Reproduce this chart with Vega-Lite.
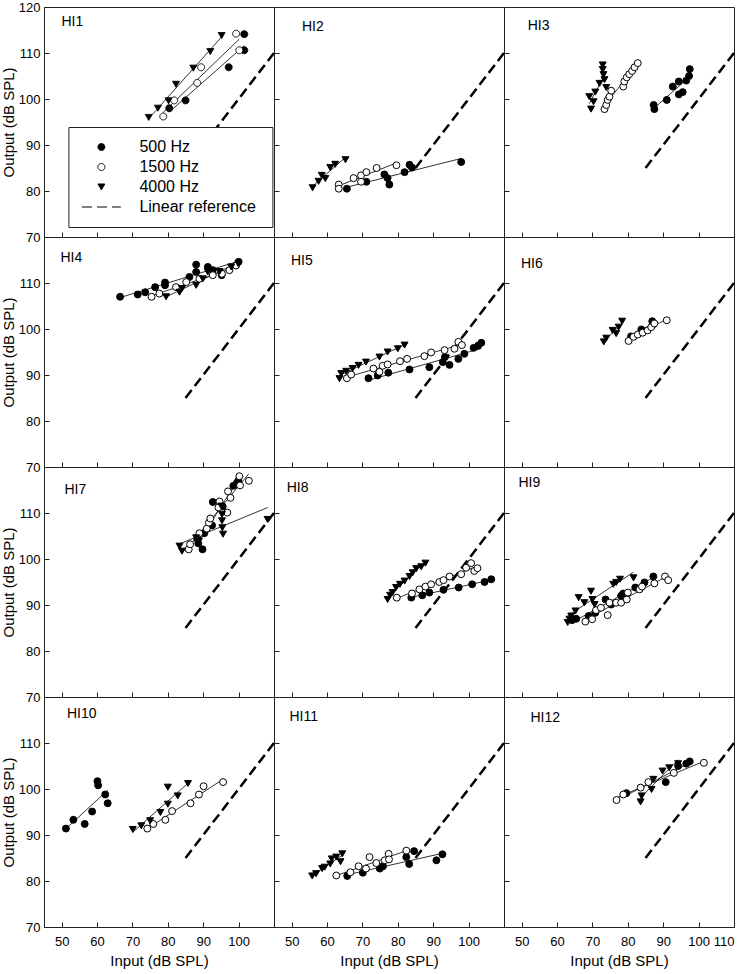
{
"$schema":"https://vega.github.io/schema/vega-lite/v6.json",
"padding":{"left":0,"top":0,"right":5,"bottom":5},
"datasets":{
"ref":[{"input":85,"output":85},{"input":110,"output":110}],
"pts":[
{"panel":"HI1","freq":"500 Hz","input":80.4,"output":98.0},{"panel":"HI1","freq":"500 Hz","input":85.0,"output":99.7},{"panel":"HI1","freq":"500 Hz","input":97.2,"output":106.9},{"panel":"HI1","freq":"500 Hz","input":101.6,"output":114.1},{"panel":"HI1","freq":"500 Hz","input":101.6,"output":110.6},
{"panel":"HI1","freq":"1500 Hz","input":78.7,"output":96.2},{"panel":"HI1","freq":"1500 Hz","input":81.8,"output":99.7},{"panel":"HI1","freq":"1500 Hz","input":88.3,"output":103.5},{"panel":"HI1","freq":"1500 Hz","input":89.4,"output":106.9},{"panel":"HI1","freq":"1500 Hz","input":99.3,"output":114.2},{"panel":"HI1","freq":"1500 Hz","input":100.2,"output":110.6},
{"panel":"HI1","freq":"4000 Hz","input":74.6,"output":96.0},{"panel":"HI1","freq":"4000 Hz","input":77.2,"output":98.0},{"panel":"HI1","freq":"4000 Hz","input":80.2,"output":99.6},{"panel":"HI1","freq":"4000 Hz","input":82.3,"output":103.2},{"panel":"HI1","freq":"4000 Hz","input":87.2,"output":106.7},{"panel":"HI1","freq":"4000 Hz","input":92.0,"output":110.3},{"panel":"HI1","freq":"4000 Hz","input":95.2,"output":113.8},
{"panel":"HI2","freq":"500 Hz","input":65.6,"output":80.5},{"panel":"HI2","freq":"500 Hz","input":71.1,"output":82.0},{"panel":"HI2","freq":"500 Hz","input":76.2,"output":83.6},{"panel":"HI2","freq":"500 Hz","input":77.1,"output":82.8},{"panel":"HI2","freq":"500 Hz","input":77.6,"output":81.4},{"panel":"HI2","freq":"500 Hz","input":81.9,"output":84.1},{"panel":"HI2","freq":"500 Hz","input":83.3,"output":85.7},{"panel":"HI2","freq":"500 Hz","input":84.0,"output":85.1},{"panel":"HI2","freq":"500 Hz","input":97.9,"output":86.3},
{"panel":"HI2","freq":"1500 Hz","input":63.3,"output":81.4},{"panel":"HI2","freq":"1500 Hz","input":63.3,"output":80.5},{"panel":"HI2","freq":"1500 Hz","input":67.5,"output":82.8},{"panel":"HI2","freq":"1500 Hz","input":69.6,"output":83.4},{"panel":"HI2","freq":"1500 Hz","input":69.6,"output":82.0},{"panel":"HI2","freq":"1500 Hz","input":71.1,"output":84.1},{"panel":"HI2","freq":"1500 Hz","input":74.0,"output":85.0},{"panel":"HI2","freq":"1500 Hz","input":79.6,"output":85.6},
{"panel":"HI2","freq":"4000 Hz","input":55.9,"output":80.7},{"panel":"HI2","freq":"4000 Hz","input":57.6,"output":82.1},{"panel":"HI2","freq":"4000 Hz","input":58.5,"output":83.4},{"panel":"HI2","freq":"4000 Hz","input":59.5,"output":82.7},{"panel":"HI2","freq":"4000 Hz","input":60.9,"output":85.1},{"panel":"HI2","freq":"4000 Hz","input":62.3,"output":85.8},{"panel":"HI2","freq":"4000 Hz","input":65.2,"output":86.8},
{"panel":"HI3","freq":"500 Hz","input":87.3,"output":98.7},{"panel":"HI3","freq":"500 Hz","input":87.5,"output":97.8},{"panel":"HI3","freq":"500 Hz","input":91.0,"output":99.8},{"panel":"HI3","freq":"500 Hz","input":92.7,"output":102.7},{"panel":"HI3","freq":"500 Hz","input":94.4,"output":103.8},{"panel":"HI3","freq":"500 Hz","input":94.4,"output":101.0},{"panel":"HI3","freq":"500 Hz","input":95.5,"output":101.5},{"panel":"HI3","freq":"500 Hz","input":96.5,"output":104.0},{"panel":"HI3","freq":"500 Hz","input":97.5,"output":106.5},{"panel":"HI3","freq":"500 Hz","input":97.3,"output":105.0},
{"panel":"HI3","freq":"1500 Hz","input":73.4,"output":97.8},{"panel":"HI3","freq":"1500 Hz","input":73.9,"output":98.7},{"panel":"HI3","freq":"1500 Hz","input":74.3,"output":99.8},{"panel":"HI3","freq":"1500 Hz","input":74.8,"output":100.5},{"panel":"HI3","freq":"1500 Hz","input":75.3,"output":101.8},{"panel":"HI3","freq":"1500 Hz","input":78.7,"output":102.7},{"panel":"HI3","freq":"1500 Hz","input":79.0,"output":103.8},{"panel":"HI3","freq":"1500 Hz","input":79.7,"output":104.7},{"panel":"HI3","freq":"1500 Hz","input":80.4,"output":105.4},{"panel":"HI3","freq":"1500 Hz","input":81.2,"output":106.1},{"panel":"HI3","freq":"1500 Hz","input":81.9,"output":106.9},{"panel":"HI3","freq":"1500 Hz","input":82.8,"output":107.8},
{"panel":"HI3","freq":"4000 Hz","input":72.9,"output":107.4},{"panel":"HI3","freq":"4000 Hz","input":72.9,"output":106.4},{"panel":"HI3","freq":"4000 Hz","input":73.1,"output":105.3},{"panel":"HI3","freq":"4000 Hz","input":73.4,"output":104.2},{"panel":"HI3","freq":"4000 Hz","input":72.0,"output":103.4},{"panel":"HI3","freq":"4000 Hz","input":73.9,"output":102.5},{"panel":"HI3","freq":"4000 Hz","input":70.8,"output":101.5},{"panel":"HI3","freq":"4000 Hz","input":69.1,"output":100.5},{"panel":"HI3","freq":"4000 Hz","input":70.3,"output":99.4},{"panel":"HI3","freq":"4000 Hz","input":69.6,"output":97.8},
{"panel":"HI4","freq":"500 Hz","input":66.5,"output":107.0},{"panel":"HI4","freq":"500 Hz","input":71.5,"output":107.5},{"panel":"HI4","freq":"500 Hz","input":73.6,"output":108.0},{"panel":"HI4","freq":"500 Hz","input":76.4,"output":109.1},{"panel":"HI4","freq":"500 Hz","input":79.2,"output":110.1},{"panel":"HI4","freq":"500 Hz","input":79.2,"output":109.5},{"panel":"HI4","freq":"500 Hz","input":86.1,"output":111.3},{"panel":"HI4","freq":"500 Hz","input":88.0,"output":114.0},{"panel":"HI4","freq":"500 Hz","input":88.0,"output":112.4},{"panel":"HI4","freq":"500 Hz","input":91.3,"output":113.5},{"panel":"HI4","freq":"500 Hz","input":92.7,"output":112.8},{"panel":"HI4","freq":"500 Hz","input":95.2,"output":111.7},{"panel":"HI4","freq":"500 Hz","input":100.0,"output":114.6},
{"panel":"HI4","freq":"1500 Hz","input":75.4,"output":107.0},{"panel":"HI4","freq":"1500 Hz","input":77.6,"output":107.7},{"panel":"HI4","freq":"1500 Hz","input":82.3,"output":109.1},{"panel":"HI4","freq":"1500 Hz","input":85.2,"output":110.2},{"panel":"HI4","freq":"1500 Hz","input":88.9,"output":110.9},{"panel":"HI4","freq":"1500 Hz","input":92.7,"output":111.7},{"panel":"HI4","freq":"1500 Hz","input":95.3,"output":112.0},{"panel":"HI4","freq":"1500 Hz","input":97.4,"output":112.8},{"panel":"HI4","freq":"1500 Hz","input":99.3,"output":113.8},
{"panel":"HI4","freq":"4000 Hz","input":79.5,"output":107.0},{"panel":"HI4","freq":"4000 Hz","input":83.3,"output":108.0},{"panel":"HI4","freq":"4000 Hz","input":84.0,"output":108.8},{"panel":"HI4","freq":"4000 Hz","input":88.0,"output":109.5},{"panel":"HI4","freq":"4000 Hz","input":89.9,"output":110.9},{"panel":"HI4","freq":"4000 Hz","input":91.3,"output":112.4},{"panel":"HI4","freq":"4000 Hz","input":94.6,"output":112.5},{"panel":"HI4","freq":"4000 Hz","input":97.9,"output":113.5},{"panel":"HI4","freq":"4000 Hz","input":99.9,"output":114.2},
{"panel":"HI5","freq":"500 Hz","input":71.7,"output":89.3},{"panel":"HI5","freq":"500 Hz","input":74.3,"output":89.9},{"panel":"HI5","freq":"500 Hz","input":77.3,"output":90.5},{"panel":"HI5","freq":"500 Hz","input":83.3,"output":91.2},{"panel":"HI5","freq":"500 Hz","input":88.9,"output":91.7},{"panel":"HI5","freq":"500 Hz","input":92.7,"output":92.8},{"panel":"HI5","freq":"500 Hz","input":93.3,"output":93.9},{"panel":"HI5","freq":"500 Hz","input":94.6,"output":92.2},{"panel":"HI5","freq":"500 Hz","input":97.1,"output":93.5},{"panel":"HI5","freq":"500 Hz","input":98.8,"output":94.6},{"panel":"HI5","freq":"500 Hz","input":101.4,"output":95.9},{"panel":"HI5","freq":"500 Hz","input":102.7,"output":96.4},{"panel":"HI5","freq":"500 Hz","input":103.6,"output":97.0},
{"panel":"HI5","freq":"1500 Hz","input":65.6,"output":89.3},{"panel":"HI5","freq":"1500 Hz","input":66.8,"output":90.1},{"panel":"HI5","freq":"1500 Hz","input":73.1,"output":91.4},{"panel":"HI5","freq":"1500 Hz","input":74.8,"output":90.7},{"panel":"HI5","freq":"1500 Hz","input":75.7,"output":92.0},{"panel":"HI5","freq":"1500 Hz","input":77.1,"output":92.3},{"panel":"HI5","freq":"1500 Hz","input":80.6,"output":93.0},{"panel":"HI5","freq":"1500 Hz","input":82.6,"output":93.5},{"panel":"HI5","freq":"1500 Hz","input":87.5,"output":94.1},{"panel":"HI5","freq":"1500 Hz","input":89.4,"output":94.9},{"panel":"HI5","freq":"1500 Hz","input":93.2,"output":95.4},{"panel":"HI5","freq":"1500 Hz","input":96.0,"output":95.7},{"panel":"HI5","freq":"1500 Hz","input":97.1,"output":97.2},{"panel":"HI5","freq":"1500 Hz","input":98.1,"output":96.5},
{"panel":"HI5","freq":"4000 Hz","input":63.5,"output":89.2},{"panel":"HI5","freq":"4000 Hz","input":64.0,"output":90.3},{"panel":"HI5","freq":"4000 Hz","input":65.4,"output":90.8},{"panel":"HI5","freq":"4000 Hz","input":67.2,"output":91.4},{"panel":"HI5","freq":"4000 Hz","input":68.9,"output":92.1},{"panel":"HI5","freq":"4000 Hz","input":71.0,"output":92.8},{"panel":"HI5","freq":"4000 Hz","input":74.8,"output":93.9},{"panel":"HI5","freq":"4000 Hz","input":77.1,"output":95.0},{"panel":"HI5","freq":"4000 Hz","input":80.0,"output":95.7},{"panel":"HI5","freq":"4000 Hz","input":81.9,"output":96.5},
{"panel":"HI6","freq":"500 Hz","input":80.9,"output":98.4},{"panel":"HI6","freq":"500 Hz","input":83.8,"output":99.9},{"panel":"HI6","freq":"500 Hz","input":84.2,"output":99.3},{"panel":"HI6","freq":"500 Hz","input":86.9,"output":101.7},{"panel":"HI6","freq":"500 Hz","input":87.0,"output":100.9},
{"panel":"HI6","freq":"1500 Hz","input":80.2,"output":97.4},{"panel":"HI6","freq":"1500 Hz","input":81.6,"output":98.3},{"panel":"HI6","freq":"1500 Hz","input":82.8,"output":98.8},{"panel":"HI6","freq":"1500 Hz","input":84.2,"output":99.2},{"panel":"HI6","freq":"1500 Hz","input":85.6,"output":99.7},{"panel":"HI6","freq":"1500 Hz","input":86.6,"output":100.4},{"panel":"HI6","freq":"1500 Hz","input":87.5,"output":101.2},{"panel":"HI6","freq":"1500 Hz","input":91.0,"output":101.9},
{"panel":"HI6","freq":"4000 Hz","input":73.2,"output":97.2},{"panel":"HI6","freq":"4000 Hz","input":73.9,"output":98.0},{"panel":"HI6","freq":"4000 Hz","input":75.7,"output":99.7},{"panel":"HI6","freq":"4000 Hz","input":76.7,"output":99.0},{"panel":"HI6","freq":"4000 Hz","input":77.4,"output":100.4},{"panel":"HI6","freq":"4000 Hz","input":78.4,"output":101.7},
{"panel":"HI7","freq":"500 Hz","input":88.3,"output":104.4},{"panel":"HI7","freq":"500 Hz","input":88.6,"output":103.4},{"panel":"HI7","freq":"500 Hz","input":89.8,"output":102.1},{"panel":"HI7","freq":"500 Hz","input":90.3,"output":105.6},{"panel":"HI7","freq":"500 Hz","input":92.5,"output":107.3},{"panel":"HI7","freq":"500 Hz","input":92.7,"output":112.4},{"panel":"HI7","freq":"500 Hz","input":95.5,"output":111.4},{"panel":"HI7","freq":"500 Hz","input":98.5,"output":115.9},{"panel":"HI7","freq":"500 Hz","input":99.5,"output":116.5},{"panel":"HI7","freq":"500 Hz","input":99.9,"output":117.0},
{"panel":"HI7","freq":"1500 Hz","input":85.9,"output":102.1},{"panel":"HI7","freq":"1500 Hz","input":86.3,"output":103.2},{"panel":"HI7","freq":"1500 Hz","input":88.9,"output":105.6},{"panel":"HI7","freq":"1500 Hz","input":91.0,"output":106.6},{"panel":"HI7","freq":"1500 Hz","input":91.6,"output":107.9},{"panel":"HI7","freq":"1500 Hz","input":92.0,"output":108.8},{"panel":"HI7","freq":"1500 Hz","input":94.6,"output":112.5},{"panel":"HI7","freq":"1500 Hz","input":94.3,"output":111.2},{"panel":"HI7","freq":"1500 Hz","input":96.8,"output":110.1},{"panel":"HI7","freq":"1500 Hz","input":97.0,"output":114.7},{"panel":"HI7","freq":"1500 Hz","input":97.7,"output":113.3},{"panel":"HI7","freq":"1500 Hz","input":100.2,"output":118.0},{"panel":"HI7","freq":"1500 Hz","input":100.4,"output":116.0},{"panel":"HI7","freq":"1500 Hz","input":102.9,"output":117.0},
{"panel":"HI7","freq":"4000 Hz","input":83.3,"output":102.8},{"panel":"HI7","freq":"4000 Hz","input":84.0,"output":101.7},{"panel":"HI7","freq":"4000 Hz","input":88.0,"output":104.6},{"panel":"HI7","freq":"4000 Hz","input":88.8,"output":103.9},{"panel":"HI7","freq":"4000 Hz","input":95.1,"output":111.5},{"panel":"HI7","freq":"4000 Hz","input":95.3,"output":109.7},{"panel":"HI7","freq":"4000 Hz","input":95.3,"output":108.3},{"panel":"HI7","freq":"4000 Hz","input":95.4,"output":106.8},{"panel":"HI7","freq":"4000 Hz","input":95.6,"output":105.4},{"panel":"HI7","freq":"4000 Hz","input":108.2,"output":108.6},
{"panel":"HI8","freq":"500 Hz","input":83.8,"output":91.6},{"panel":"HI8","freq":"500 Hz","input":86.9,"output":92.1},{"panel":"HI8","freq":"500 Hz","input":88.9,"output":92.7},{"panel":"HI8","freq":"500 Hz","input":92.9,"output":93.3},{"panel":"HI8","freq":"500 Hz","input":97.2,"output":93.8},{"panel":"HI8","freq":"500 Hz","input":101.0,"output":94.5},{"panel":"HI8","freq":"500 Hz","input":104.5,"output":95.0},{"panel":"HI8","freq":"500 Hz","input":106.4,"output":95.6},
{"panel":"HI8","freq":"1500 Hz","input":79.7,"output":91.6},{"panel":"HI8","freq":"1500 Hz","input":84.0,"output":92.5},{"panel":"HI8","freq":"1500 Hz","input":86.1,"output":93.4},{"panel":"HI8","freq":"1500 Hz","input":87.8,"output":94.0},{"panel":"HI8","freq":"1500 Hz","input":89.4,"output":94.5},{"panel":"HI8","freq":"1500 Hz","input":91.7,"output":95.0},{"panel":"HI8","freq":"1500 Hz","input":92.9,"output":95.4},{"panel":"HI8","freq":"1500 Hz","input":94.6,"output":96.2},{"panel":"HI8","freq":"1500 Hz","input":97.9,"output":96.7},{"panel":"HI8","freq":"1500 Hz","input":99.3,"output":98.1},{"panel":"HI8","freq":"1500 Hz","input":100.7,"output":99.1},{"panel":"HI8","freq":"1500 Hz","input":101.6,"output":97.4},{"panel":"HI8","freq":"1500 Hz","input":102.5,"output":98.0},
{"panel":"HI8","freq":"4000 Hz","input":77.1,"output":91.2},{"panel":"HI8","freq":"4000 Hz","input":77.8,"output":92.1},{"panel":"HI8","freq":"4000 Hz","input":78.5,"output":92.7},{"panel":"HI8","freq":"4000 Hz","input":79.5,"output":93.8},{"panel":"HI8","freq":"4000 Hz","input":80.6,"output":94.5},{"panel":"HI8","freq":"4000 Hz","input":81.9,"output":95.2},{"panel":"HI8","freq":"4000 Hz","input":83.3,"output":96.2},{"panel":"HI8","freq":"4000 Hz","input":84.2,"output":97.0},{"panel":"HI8","freq":"4000 Hz","input":85.2,"output":97.9},{"panel":"HI8","freq":"4000 Hz","input":86.6,"output":98.3},{"panel":"HI8","freq":"4000 Hz","input":87.8,"output":99.1},
{"panel":"HI9","freq":"500 Hz","input":64.2,"output":86.7},{"panel":"HI9","freq":"500 Hz","input":65.4,"output":87.0},{"panel":"HI9","freq":"500 Hz","input":68.9,"output":87.6},{"panel":"HI9","freq":"500 Hz","input":70.8,"output":88.3},{"panel":"HI9","freq":"500 Hz","input":73.7,"output":91.2},{"panel":"HI9","freq":"500 Hz","input":75.3,"output":90.1},{"panel":"HI9","freq":"500 Hz","input":78.1,"output":92.0},{"panel":"HI9","freq":"500 Hz","input":78.7,"output":92.5},{"panel":"HI9","freq":"500 Hz","input":82.1,"output":93.8},{"panel":"HI9","freq":"500 Hz","input":84.7,"output":94.9},{"panel":"HI9","freq":"500 Hz","input":87.2,"output":96.2},
{"panel":"HI9","freq":"1500 Hz","input":68.0,"output":86.4},{"panel":"HI9","freq":"1500 Hz","input":69.9,"output":86.9},{"panel":"HI9","freq":"1500 Hz","input":71.0,"output":88.9},{"panel":"HI9","freq":"1500 Hz","input":72.4,"output":89.4},{"panel":"HI9","freq":"1500 Hz","input":74.3,"output":87.8},{"panel":"HI9","freq":"1500 Hz","input":74.8,"output":90.5},{"panel":"HI9","freq":"1500 Hz","input":76.7,"output":90.5},{"panel":"HI9","freq":"1500 Hz","input":78.1,"output":90.5},{"panel":"HI9","freq":"1500 Hz","input":79.7,"output":91.2},{"panel":"HI9","freq":"1500 Hz","input":80.0,"output":92.7},{"panel":"HI9","freq":"1500 Hz","input":83.3,"output":93.4},{"panel":"HI9","freq":"1500 Hz","input":84.0,"output":94.0},{"panel":"HI9","freq":"1500 Hz","input":87.5,"output":94.7},{"panel":"HI9","freq":"1500 Hz","input":90.5,"output":96.2},{"panel":"HI9","freq":"1500 Hz","input":91.4,"output":95.4},
{"panel":"HI9","freq":"4000 Hz","input":63.0,"output":86.2},{"panel":"HI9","freq":"4000 Hz","input":63.5,"output":86.9},{"panel":"HI9","freq":"4000 Hz","input":64.0,"output":87.6},{"panel":"HI9","freq":"4000 Hz","input":65.2,"output":88.7},{"panel":"HI9","freq":"4000 Hz","input":66.1,"output":91.6},{"panel":"HI9","freq":"4000 Hz","input":67.7,"output":90.5},{"panel":"HI9","freq":"4000 Hz","input":69.6,"output":93.0},{"panel":"HI9","freq":"4000 Hz","input":70.0,"output":91.2},{"panel":"HI9","freq":"4000 Hz","input":70.6,"output":90.1},{"panel":"HI9","freq":"4000 Hz","input":75.9,"output":94.5},{"panel":"HI9","freq":"4000 Hz","input":76.7,"output":94.9},{"panel":"HI9","freq":"4000 Hz","input":77.8,"output":95.6},{"panel":"HI9","freq":"4000 Hz","input":81.6,"output":95.9},
{"panel":"HI10","freq":"500 Hz","input":51.2,"output":91.4},{"panel":"HI10","freq":"500 Hz","input":53.3,"output":93.3},{"panel":"HI10","freq":"500 Hz","input":56.5,"output":92.4},{"panel":"HI10","freq":"500 Hz","input":58.6,"output":95.1},{"panel":"HI10","freq":"500 Hz","input":60.1,"output":101.7},{"panel":"HI10","freq":"500 Hz","input":60.3,"output":100.8},{"panel":"HI10","freq":"500 Hz","input":62.3,"output":98.8},{"panel":"HI10","freq":"500 Hz","input":63.0,"output":96.9},
{"panel":"HI10","freq":"1500 Hz","input":74.2,"output":91.4},{"panel":"HI10","freq":"1500 Hz","input":75.9,"output":92.4},{"panel":"HI10","freq":"1500 Hz","input":79.3,"output":93.3},{"panel":"HI10","freq":"1500 Hz","input":81.2,"output":95.2},{"panel":"HI10","freq":"1500 Hz","input":86.4,"output":96.9},{"panel":"HI10","freq":"1500 Hz","input":88.8,"output":98.8},{"panel":"HI10","freq":"1500 Hz","input":90.1,"output":100.6},{"panel":"HI10","freq":"1500 Hz","input":95.6,"output":101.5},
{"panel":"HI10","freq":"4000 Hz","input":70.1,"output":91.2},{"panel":"HI10","freq":"4000 Hz","input":72.5,"output":92.0},{"panel":"HI10","freq":"4000 Hz","input":75.0,"output":93.1},{"panel":"HI10","freq":"4000 Hz","input":77.9,"output":94.9},{"panel":"HI10","freq":"4000 Hz","input":80.0,"output":96.7},{"panel":"HI10","freq":"4000 Hz","input":80.0,"output":100.4},{"panel":"HI10","freq":"4000 Hz","input":82.8,"output":98.5},{"panel":"HI10","freq":"4000 Hz","input":85.7,"output":101.2},
{"panel":"HI11","freq":"500 Hz","input":65.7,"output":81.1},{"panel":"HI11","freq":"500 Hz","input":70.1,"output":81.8},{"panel":"HI11","freq":"500 Hz","input":74.9,"output":82.7},{"panel":"HI11","freq":"500 Hz","input":75.8,"output":83.2},{"panel":"HI11","freq":"500 Hz","input":82.4,"output":85.2},{"panel":"HI11","freq":"500 Hz","input":83.2,"output":83.7},{"panel":"HI11","freq":"500 Hz","input":84.6,"output":86.5},{"panel":"HI11","freq":"500 Hz","input":90.9,"output":84.5},{"panel":"HI11","freq":"500 Hz","input":92.6,"output":85.8},
{"panel":"HI11","freq":"1500 Hz","input":62.6,"output":81.2},{"panel":"HI11","freq":"1500 Hz","input":66.6,"output":81.9},{"panel":"HI11","freq":"1500 Hz","input":68.9,"output":83.2},{"panel":"HI11","freq":"1500 Hz","input":71.0,"output":82.7},{"panel":"HI11","freq":"1500 Hz","input":72.0,"output":85.2},{"panel":"HI11","freq":"1500 Hz","input":73.9,"output":83.9},{"panel":"HI11","freq":"1500 Hz","input":76.3,"output":84.5},{"panel":"HI11","freq":"1500 Hz","input":77.4,"output":85.9},{"panel":"HI11","freq":"1500 Hz","input":77.5,"output":84.7},{"panel":"HI11","freq":"1500 Hz","input":82.4,"output":86.6},
{"panel":"HI11","freq":"4000 Hz","input":55.8,"output":81.1},{"panel":"HI11","freq":"4000 Hz","input":56.9,"output":81.6},{"panel":"HI11","freq":"4000 Hz","input":58.6,"output":82.7},{"panel":"HI11","freq":"4000 Hz","input":59.3,"output":83.0},{"panel":"HI11","freq":"4000 Hz","input":60.9,"output":83.7},{"panel":"HI11","freq":"4000 Hz","input":61.3,"output":84.8},{"panel":"HI11","freq":"4000 Hz","input":62.6,"output":85.2},{"panel":"HI11","freq":"4000 Hz","input":63.8,"output":84.2},{"panel":"HI11","freq":"4000 Hz","input":64.3,"output":85.9},
{"panel":"HI12","freq":"500 Hz","input":79.6,"output":99.1},{"panel":"HI12","freq":"500 Hz","input":90.7,"output":101.5},{"panel":"HI12","freq":"500 Hz","input":94.2,"output":105.0},{"panel":"HI12","freq":"500 Hz","input":96.5,"output":105.5},{"panel":"HI12","freq":"500 Hz","input":97.5,"output":106.0},
{"panel":"HI12","freq":"1500 Hz","input":76.8,"output":97.6},{"panel":"HI12","freq":"1500 Hz","input":78.7,"output":98.8},{"panel":"HI12","freq":"1500 Hz","input":83.6,"output":100.3},{"panel":"HI12","freq":"1500 Hz","input":85.8,"output":101.5},{"panel":"HI12","freq":"1500 Hz","input":93.0,"output":103.5},{"panel":"HI12","freq":"1500 Hz","input":101.5,"output":105.7},
{"panel":"HI12","freq":"4000 Hz","input":83.6,"output":97.2},{"panel":"HI12","freq":"4000 Hz","input":83.9,"output":98.5},{"panel":"HI12","freq":"4000 Hz","input":86.7,"output":99.9},{"panel":"HI12","freq":"4000 Hz","input":87.2,"output":102.1},{"panel":"HI12","freq":"4000 Hz","input":89.8,"output":103.9},{"panel":"HI12","freq":"4000 Hz","input":91.7,"output":104.6},{"panel":"HI12","freq":"4000 Hz","input":94.2,"output":105.5}
]},
"columns":3,
"spacing":0,
"bounds":"flush",
"concat":[
{"width":230,"height":230,"title":{"text":"HI1","dx":17.5,"offset":-27.5},
 "encoding":{"x":{"field":"input","type":"quantitative","scale":{"domain":[45,110],"nice":false,"zero":false},"axis":{"values":[50,60,70,80,90,100,110],"labels":false,"title":null}},
  "y":{"field":"output","type":"quantitative","scale":{"domain":[70,120],"nice":false,"zero":false},"axis":{"values":[70,80,90,100,110,120],"title":"Output (dB SPL)"}}},
 "layer":[
  {"data":{"name":"ref"},"mark":{"type":"line","color":"black","strokeWidth":2.5,"strokeDash":[10,5]}},
  {"data":{"name":"pts"},"transform":[{"filter":"datum.panel === 'HI1'"},{"regression":"output","on":"input","groupby":["freq"]}],"mark":{"type":"line","color":"black","strokeWidth":0.8},"encoding":{"detail":{"field":"freq"}}},
  {"data":{"name":"pts"},"transform":[{"filter":"datum.panel === 'HI1'"}],"mark":{"type":"point","filled":true,"opacity":1},
   "encoding":{"shape":{"field":"freq","type":"nominal","scale":{"domain":["500 Hz","1500 Hz","4000 Hz","Linear reference"],"range":["circle","circle","triangle-down","M-5.6,0L5.6,0"]},"legend":{"title":"\u00a0\u00a0","titleOrient":"right","titlePadding":4}},
    "fill":{"field":"freq","type":"nominal","scale":{"domain":["500 Hz","1500 Hz","4000 Hz","Linear reference"],"range":["black","white","black","transparent"]},"legend":{"title":"\u00a0\u00a0","titleOrient":"right","titlePadding":4}},
    "stroke":{"field":"freq","type":"nominal","scale":{"domain":["500 Hz","1500 Hz","4000 Hz","Linear reference"],"range":["black","black","black","black"]},"legend":{"title":"\u00a0\u00a0","titleOrient":"right","titlePadding":4}},
    "strokeDash":{"field":"freq","type":"nominal","scale":{"domain":["500 Hz","1500 Hz","4000 Hz","Linear reference"],"range":[[1,0],[1,0],[1,0],[10,5]]},"legend":{"title":"\u00a0\u00a0","titleOrient":"right","titlePadding":4}},
    "strokeWidth":{"field":"freq","type":"nominal","scale":{"domain":["500 Hz","1500 Hz","4000 Hz","Linear reference"],"range":[1,1,1,2.5]},"legend":{"title":"\u00a0\u00a0","titleOrient":"right","titlePadding":4}},
    "size":{"field":"freq","type":"nominal","scale":{"domain":["500 Hz","1500 Hz","4000 Hz","Linear reference"],"range":[48,48,125,64]},"legend":{"title":"\u00a0\u00a0","titleOrient":"right","titlePadding":4}}}}
 ]},
{"width":230,"height":230,"title":{"text":"HI2","dx":28,"offset":-27.5},
 "encoding":{"x":{"field":"input","type":"quantitative","scale":{"domain":[45,110],"nice":false,"zero":false},"axis":{"values":[50,60,70,80,90,100,110],"labels":false,"title":null}},
  "y":{"field":"output","type":"quantitative","scale":{"domain":[70,120],"nice":false,"zero":false},"axis":{"values":[70,80,90,100,110,120],"labels":false,"title":null}}},
 "layer":[
  {"data":{"name":"ref"},"mark":{"type":"line","color":"black","strokeWidth":2.5,"strokeDash":[10,5]}},
  {"data":{"name":"pts"},"transform":[{"filter":"datum.panel === 'HI2'"},{"regression":"output","on":"input","groupby":["freq"]}],"mark":{"type":"line","color":"black","strokeWidth":0.8},"encoding":{"detail":{"field":"freq"}}},
  {"data":{"name":"pts"},"transform":[{"filter":"datum.panel === 'HI2'"}],"mark":{"type":"point","filled":true,"stroke":"black","strokeWidth":1,"opacity":1},
   "encoding":{"shape":{"field":"freq","type":"nominal"},"fill":{"field":"freq","type":"nominal"},"size":{"field":"freq","type":"nominal"}}}
 ]},
{"width":230,"height":230,"title":{"text":"HI3","dx":23.7,"offset":-26},
 "encoding":{"x":{"field":"input","type":"quantitative","scale":{"domain":[45,110],"nice":false,"zero":false},"axis":{"values":[50,60,70,80,90,100,110],"labels":false,"title":null}},
  "y":{"field":"output","type":"quantitative","scale":{"domain":[70,120],"nice":false,"zero":false},"axis":{"values":[70,80,90,100,110,120],"labels":false,"title":null}}},
 "layer":[
  {"data":{"name":"ref"},"mark":{"type":"line","color":"black","strokeWidth":2.5,"strokeDash":[10,5]}},
  {"data":{"name":"pts"},"transform":[{"filter":"datum.panel === 'HI3'"},{"regression":"output","on":"input","groupby":["freq"]}],"mark":{"type":"line","color":"black","strokeWidth":0.8},"encoding":{"detail":{"field":"freq"}}},
  {"data":{"name":"pts"},"transform":[{"filter":"datum.panel === 'HI3'"}],"mark":{"type":"point","filled":true,"stroke":"black","strokeWidth":1,"opacity":1},
   "encoding":{"shape":{"field":"freq","type":"nominal"},"fill":{"field":"freq","type":"nominal"},"size":{"field":"freq","type":"nominal"}}}
 ]},
{"width":230,"height":230,"title":{"text":"HI4","dx":16.4,"offset":-28.3},
 "encoding":{"x":{"field":"input","type":"quantitative","scale":{"domain":[45,110],"nice":false,"zero":false},"axis":{"values":[50,60,70,80,90,100,110],"labels":false,"title":null}},
  "y":{"field":"output","type":"quantitative","scale":{"domain":[70,120],"nice":false,"zero":false},"axis":{"values":[70,80,90,100,110,120],"labelExpr":"datum.value == 120 ? '' : datum.label","title":"Output (dB SPL)"}}},
 "layer":[
  {"data":{"name":"ref"},"mark":{"type":"line","color":"black","strokeWidth":2.5,"strokeDash":[10,5]}},
  {"data":{"name":"pts"},"transform":[{"filter":"datum.panel === 'HI4'"},{"regression":"output","on":"input","groupby":["freq"]}],"mark":{"type":"line","color":"black","strokeWidth":0.8},"encoding":{"detail":{"field":"freq"}}},
  {"data":{"name":"pts"},"transform":[{"filter":"datum.panel === 'HI4'"}],"mark":{"type":"point","filled":true,"stroke":"black","strokeWidth":1,"opacity":1},
   "encoding":{"shape":{"field":"freq","type":"nominal"},"fill":{"field":"freq","type":"nominal"},"size":{"field":"freq","type":"nominal"}}}
 ]},
{"width":230,"height":230,"title":{"text":"HI5","dx":17,"offset":-31},
 "encoding":{"x":{"field":"input","type":"quantitative","scale":{"domain":[45,110],"nice":false,"zero":false},"axis":{"values":[50,60,70,80,90,100,110],"labels":false,"title":null}},
  "y":{"field":"output","type":"quantitative","scale":{"domain":[70,120],"nice":false,"zero":false},"axis":{"values":[70,80,90,100,110,120],"labels":false,"title":null}}},
 "layer":[
  {"data":{"name":"ref"},"mark":{"type":"line","color":"black","strokeWidth":2.5,"strokeDash":[10,5]}},
  {"data":{"name":"pts"},"transform":[{"filter":"datum.panel === 'HI5'"},{"regression":"output","on":"input","groupby":["freq"]}],"mark":{"type":"line","color":"black","strokeWidth":0.8},"encoding":{"detail":{"field":"freq"}}},
  {"data":{"name":"pts"},"transform":[{"filter":"datum.panel === 'HI5'"}],"mark":{"type":"point","filled":true,"stroke":"black","strokeWidth":1,"opacity":1},
   "encoding":{"shape":{"field":"freq","type":"nominal"},"fill":{"field":"freq","type":"nominal"},"size":{"field":"freq","type":"nominal"}}}
 ]},
{"width":230,"height":230,"title":{"text":"HI6","dx":17,"offset":-34},
 "encoding":{"x":{"field":"input","type":"quantitative","scale":{"domain":[45,110],"nice":false,"zero":false},"axis":{"values":[50,60,70,80,90,100,110],"labels":false,"title":null}},
  "y":{"field":"output","type":"quantitative","scale":{"domain":[70,120],"nice":false,"zero":false},"axis":{"values":[70,80,90,100,110,120],"labels":false,"title":null}}},
 "layer":[
  {"data":{"name":"ref"},"mark":{"type":"line","color":"black","strokeWidth":2.5,"strokeDash":[10,5]}},
  {"data":{"name":"pts"},"transform":[{"filter":"datum.panel === 'HI6'"},{"regression":"output","on":"input","groupby":["freq"]}],"mark":{"type":"line","color":"black","strokeWidth":0.8},"encoding":{"detail":{"field":"freq"}}},
  {"data":{"name":"pts"},"transform":[{"filter":"datum.panel === 'HI6'"}],"mark":{"type":"point","filled":true,"stroke":"black","strokeWidth":1,"opacity":1},
   "encoding":{"shape":{"field":"freq","type":"nominal"},"fill":{"field":"freq","type":"nominal"},"size":{"field":"freq","type":"nominal"}}}
 ]},
{"width":230,"height":230,"title":{"text":"HI7","dx":20.4,"offset":-30.7},
 "encoding":{"x":{"field":"input","type":"quantitative","scale":{"domain":[45,110],"nice":false,"zero":false},"axis":{"values":[50,60,70,80,90,100,110],"labels":false,"title":null}},
  "y":{"field":"output","type":"quantitative","scale":{"domain":[70,120],"nice":false,"zero":false},"axis":{"values":[70,80,90,100,110,120],"labelExpr":"datum.value == 120 ? '' : datum.label","title":"Output (dB SPL)"}}},
 "layer":[
  {"data":{"name":"ref"},"mark":{"type":"line","color":"black","strokeWidth":2.5,"strokeDash":[10,5]}},
  {"data":{"name":"pts"},"transform":[{"filter":"datum.panel === 'HI7'"},{"regression":"output","on":"input","groupby":["freq"]}],"mark":{"type":"line","color":"black","strokeWidth":0.8},"encoding":{"detail":{"field":"freq"}}},
  {"data":{"name":"pts"},"transform":[{"filter":"datum.panel === 'HI7'"}],"mark":{"type":"point","filled":true,"stroke":"black","strokeWidth":1,"opacity":1},
   "encoding":{"shape":{"field":"freq","type":"nominal"},"fill":{"field":"freq","type":"nominal"},"size":{"field":"freq","type":"nominal"}}}
 ]},
{"width":230,"height":230,"title":{"text":"HI8","dx":12.7,"offset":-28.3},
 "encoding":{"x":{"field":"input","type":"quantitative","scale":{"domain":[45,110],"nice":false,"zero":false},"axis":{"values":[50,60,70,80,90,100,110],"labels":false,"title":null}},
  "y":{"field":"output","type":"quantitative","scale":{"domain":[70,120],"nice":false,"zero":false},"axis":{"values":[70,80,90,100,110,120],"labels":false,"title":null}}},
 "layer":[
  {"data":{"name":"ref"},"mark":{"type":"line","color":"black","strokeWidth":2.5,"strokeDash":[10,5]}},
  {"data":{"name":"pts"},"transform":[{"filter":"datum.panel === 'HI8'"},{"regression":"output","on":"input","groupby":["freq"]}],"mark":{"type":"line","color":"black","strokeWidth":0.8},"encoding":{"detail":{"field":"freq"}}},
  {"data":{"name":"pts"},"transform":[{"filter":"datum.panel === 'HI8'"}],"mark":{"type":"point","filled":true,"stroke":"black","strokeWidth":1,"opacity":1},
   "encoding":{"shape":{"field":"freq","type":"nominal"},"fill":{"field":"freq","type":"nominal"},"size":{"field":"freq","type":"nominal"}}}
 ]},
{"width":230,"height":230,"title":{"text":"HI9","dx":14.4,"offset":-23},
 "encoding":{"x":{"field":"input","type":"quantitative","scale":{"domain":[45,110],"nice":false,"zero":false},"axis":{"values":[50,60,70,80,90,100,110],"labels":false,"title":null}},
  "y":{"field":"output","type":"quantitative","scale":{"domain":[70,120],"nice":false,"zero":false},"axis":{"values":[70,80,90,100,110,120],"labels":false,"title":null}}},
 "layer":[
  {"data":{"name":"ref"},"mark":{"type":"line","color":"black","strokeWidth":2.5,"strokeDash":[10,5]}},
  {"data":{"name":"pts"},"transform":[{"filter":"datum.panel === 'HI9'"},{"regression":"output","on":"input","groupby":["freq"]}],"mark":{"type":"line","color":"black","strokeWidth":0.8},"encoding":{"detail":{"field":"freq"}}},
  {"data":{"name":"pts"},"transform":[{"filter":"datum.panel === 'HI9'"}],"mark":{"type":"point","filled":true,"stroke":"black","strokeWidth":1,"opacity":1},
   "encoding":{"shape":{"field":"freq","type":"nominal"},"fill":{"field":"freq","type":"nominal"},"size":{"field":"freq","type":"nominal"}}}
 ]},
{"width":230,"height":230,"title":{"text":"HI10","dx":23,"offset":-24},
 "encoding":{"x":{"field":"input","type":"quantitative","scale":{"domain":[45,110],"nice":false,"zero":false},"axis":{"values":[50,60,70,80,90,100,110],"labelExpr":"datum.value == 110 ? '' : datum.label","title":"Input (dB SPL)"}},
  "y":{"field":"output","type":"quantitative","scale":{"domain":[70,120],"nice":false,"zero":false},"axis":{"values":[70,80,90,100,110,120],"labelExpr":"datum.value == 120 ? '' : datum.label","title":"Output (dB SPL)"}}},
 "layer":[
  {"data":{"name":"ref"},"mark":{"type":"line","color":"black","strokeWidth":2.5,"strokeDash":[10,5]}},
  {"data":{"name":"pts"},"transform":[{"filter":"datum.panel === 'HI10'"},{"regression":"output","on":"input","groupby":["freq"]}],"mark":{"type":"line","color":"black","strokeWidth":0.8},"encoding":{"detail":{"field":"freq"}}},
  {"data":{"name":"pts"},"transform":[{"filter":"datum.panel === 'HI10'"}],"mark":{"type":"point","filled":true,"stroke":"black","strokeWidth":1,"opacity":1},
   "encoding":{"shape":{"field":"freq","type":"nominal"},"fill":{"field":"freq","type":"nominal"},"size":{"field":"freq","type":"nominal"}}}
 ]},
{"width":230,"height":230,"title":{"text":"HI11","dx":15.4,"offset":-27.3},
 "encoding":{"x":{"field":"input","type":"quantitative","scale":{"domain":[45,110],"nice":false,"zero":false},"axis":{"values":[50,60,70,80,90,100,110],"labelExpr":"datum.value == 110 ? '' : datum.label","title":"Input (dB SPL)"}},
  "y":{"field":"output","type":"quantitative","scale":{"domain":[70,120],"nice":false,"zero":false},"axis":{"values":[70,80,90,100,110,120],"labels":false,"title":null}}},
 "layer":[
  {"data":{"name":"ref"},"mark":{"type":"line","color":"black","strokeWidth":2.5,"strokeDash":[10,5]}},
  {"data":{"name":"pts"},"transform":[{"filter":"datum.panel === 'HI11'"},{"regression":"output","on":"input","groupby":["freq"]}],"mark":{"type":"line","color":"black","strokeWidth":0.8},"encoding":{"detail":{"field":"freq"}}},
  {"data":{"name":"pts"},"transform":[{"filter":"datum.panel === 'HI11'"}],"mark":{"type":"point","filled":true,"stroke":"black","strokeWidth":1,"opacity":1},
   "encoding":{"shape":{"field":"freq","type":"nominal"},"fill":{"field":"freq","type":"nominal"},"size":{"field":"freq","type":"nominal"}}}
 ]},
{"width":230,"height":230,"title":{"text":"HI12","dx":26.4,"offset":-28.3},
 "encoding":{"x":{"field":"input","type":"quantitative","scale":{"domain":[45,110],"nice":false,"zero":false},"axis":{"values":[50,60,70,80,90,100,110],"title":"Input (dB SPL)"}},
  "y":{"field":"output","type":"quantitative","scale":{"domain":[70,120],"nice":false,"zero":false},"axis":{"values":[70,80,90,100,110,120],"labels":false,"title":null}}},
 "layer":[
  {"data":{"name":"ref"},"mark":{"type":"line","color":"black","strokeWidth":2.5,"strokeDash":[10,5]}},
  {"data":{"name":"pts"},"transform":[{"filter":"datum.panel === 'HI12'"},{"regression":"output","on":"input","groupby":["freq"]}],"mark":{"type":"line","color":"black","strokeWidth":0.8},"encoding":{"detail":{"field":"freq"}}},
  {"data":{"name":"pts"},"transform":[{"filter":"datum.panel === 'HI12'"}],"mark":{"type":"point","filled":true,"stroke":"black","strokeWidth":1,"opacity":1},
   "encoding":{"shape":{"field":"freq","type":"nominal"},"fill":{"field":"freq","type":"nominal"},"size":{"field":"freq","type":"nominal"}}}
 ]}
],
"config":{
 "font":"Liberation Sans",
 "view":{"stroke":"#222","strokeWidth":1},
 "title":{"anchor":"start","frame":"group","baseline":"alphabetic","fontSize":14,"fontWeight":"normal","color":"black","font":"Liberation Sans"},
 "axis":{"grid":false,"domain":false,"tickSize":-5,"tickColor":"#222","labelFontSize":13,"labelColor":"black","labelPadding":9,"titleFontSize":15,"titleFontWeight":"normal","titleColor":"black","titlePadding":2,"labelFont":"Liberation Sans","titleFont":"Liberation Sans"},
 "axisX":{"labelPadding":13,"titlePadding":5},
 "legend":{"orient":"none","legendX":24.4,"legendY":120,"strokeColor":"#222","fillColor":"white","padding":12,"labelFontSize":16,"labelFont":"Liberation Sans","labelColor":"black","titleFontSize":16,"rowPadding":4,"labelOffset":30,"symbolOffset":13}
}
}
